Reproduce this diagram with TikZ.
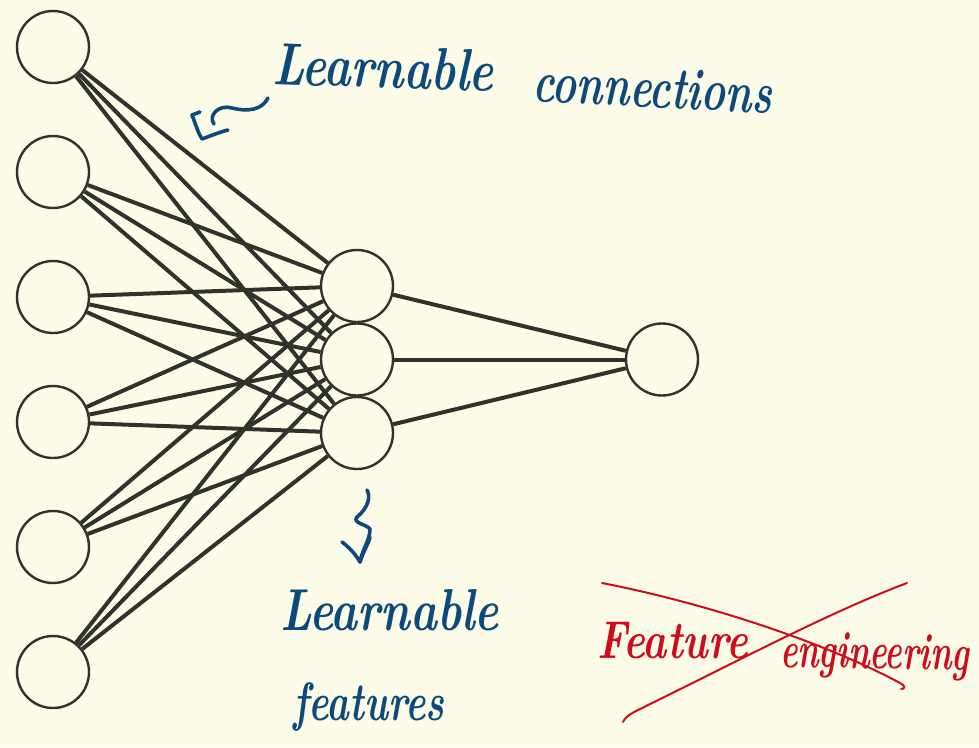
\documentclass[tikz,border=0pt]{standalone}
\usepackage{graphicx}
\definecolor{paper}{HTML}{FDFCE8}
\definecolor{ink}{HTML}{32322C}
\definecolor{pen}{HTML}{0D4A7C}
\definecolor{redpen}{HTML}{CE0C1C}
% #1 font size, #2 horizontal squeeze, #3 vertical stretch, #4 words
\newcommand{\hand}[4]{\scalebox{#2}[#3]{\fontsize{#1}{#1}\selectfont #4}}
\begin{document}
\begin{tikzpicture}[x=1pt,y=-1pt,
  neuron/.style={circle, draw=ink, line width=2.4pt, fill=paper, minimum size=72pt, inner sep=0pt},
  wire/.style={draw=ink, line width=4pt},
  bluetext/.style={text=pen, anchor=base west, inner sep=0pt, font=\bfseries\itshape},
  redtext/.style={text=redpen, anchor=base west, inner sep=0pt, font=\bfseries\itshape},
  bluestroke/.style={draw=pen, line width=3.6pt, line cap=round, line join=round},
  redstroke/.style={draw=redpen, line width=2pt, line cap=round}]
\fill[paper] (0,0) rectangle (979,747);
\useasboundingbox (0,0) rectangle (979,747);

% input layer
\foreach \i/\y in {1/47,2/172,3/297,4/422,5/547,6/672}
  \node[neuron] (in\i) at (53,\y) {};
% hidden layer
\foreach \j/\y in {1/286,2/359.5,3/433}
  \node[neuron] (h\j) at (357,\y) {};
% output
\node[neuron] (out) at (662,359.5) {};

% fully connected weights
\foreach \i in {1,...,6}
  \foreach \j in {1,2,3}
    \draw[wire] (in\i) -- (h\j);
\foreach \j in {1,2,3}
  \draw[wire] (h\j) -- (out);

% annotations
\node[bluetext, rotate=-2] (lc1) at (272,84) {\hand{46}{1}{1.3}{Learnable}};
\node[bluetext, rotate=-3] (lc2) at (532,101) {\hand{41}{1}{1.45}{connections}};

\coordinate (ca0) at (268,98);
\coordinate (ca1) at (232,108);
\coordinate (ca2) at (214,124);
\coordinate (cht) at (202,139);
\draw[bluestroke] (ca0) .. controls (262,110) and (248,112) .. (ca1)
  .. controls (218,104) and (208,116) .. (ca2);
\draw[bluestroke] (200,112) -- (192,115) .. controls (196,125) and (198,133) .. (cht)
  .. controls (210,136) and (220,132) .. (228,130);

\coordinate (fa0) at (367,490);
\coordinate (fa1) at (357,517);
\coordinate (fa2) at (370,529);
\coordinate (fat) at (360,562);
\draw[bluestroke] (fa0) .. controls (371,497) and (368,508) .. (fa1)
  .. controls (352,523) and (366,524) .. (fa2)
  .. controls (370,540) and (362,550) .. (fat);
\draw[bluestroke] (342,542) .. controls (350,548) and (356,555) .. (fat)
  .. controls (363,552) and (368,545) .. (370,537);

\node[bluetext] (lf1) at (280,630) {\hand{45.5}{1}{1.3}{Learnable}};
\node[bluetext] (lf2) at (293,720) {\hand{38.5}{1}{1.4}{features}};

\node[redtext] (fe1) at (597,658) {\hand{41}{1}{1.3}{Feature}};
\node[redtext, rotate=-1] (fe2) at (780,667) {\hand{40}{0.82}{1.3}{engineering}};

\draw[redstroke] (602,583) .. controls (700,602) and (820,640) .. (900,683)
  .. controls (906,686) and (905,689) .. (901,689);
\draw[redstroke] (623,722) .. controls (625,717) and (630,714) .. (640,709)
  .. controls (740,660) and (830,612) .. (907,583);
\end{tikzpicture}
\end{document}
